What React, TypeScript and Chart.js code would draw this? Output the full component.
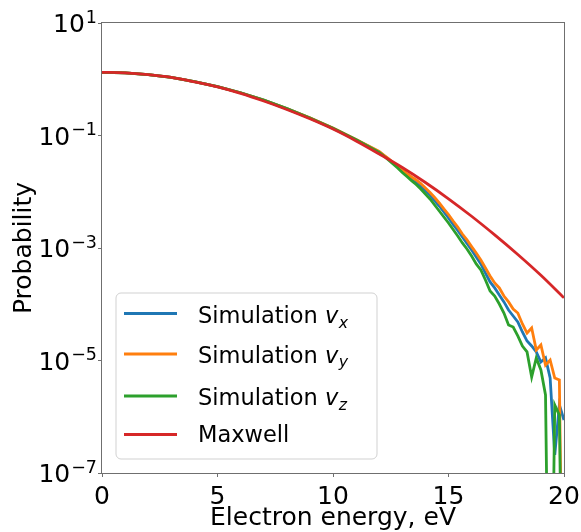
import React, { useEffect, useRef } from 'react';
import { Chart, registerables } from 'chart.js';

Chart.register(...registerables);

// Analytic Maxwell reference, sampled every 1 eV
const MAXWELL_ENERGY = [0, 1, 2, 3, 4, 5, 6, 7, 8, 9, 10, 11, 12, 13, 14, 15, 16, 17, 18, 19, 20];
const MAXWELL_P = [
  1.33, 1.30, 1.21, 1.08, 0.90, 0.73, 0.56, 0.41, 0.29, 0.198, 0.13,
  0.080, 0.047, 0.027, 0.0146, 0.0075, 0.00367, 0.00171, 7.66e-4, 3.27e-4, 1.3e-4,
];

// Histogram energies of the simulated velocity components (coarse bulk, fine tail)
const SIM_ENERGY = [
  0, 1, 2, 3, 4, 5, 6, 7, 8, 9, 10, 11,
  12.0, 12.2, 12.4, 12.6, 12.8, 13.0, 13.2, 13.4, 13.6, 13.8,
  14.0, 14.2, 14.4, 14.6, 14.8, 15.0, 15.2, 15.4, 15.6, 15.8,
  16.0, 16.2, 16.4, 16.6, 16.8, 17.0, 17.2, 17.4, 17.6, 17.8,
  18.0, 18.2, 18.4, 18.6, 18.8, 19.0, 19.2, 19.4, 19.6, 19.8, 20.0,
];

const SIM_VX = [
  1.33, 1.30, 1.21, 1.08, 0.91, 0.74, 0.575, 0.425, 0.30, 0.205, 0.135, 0.084,
  0.0509, 0.0441, 0.0382, 0.0325, 0.0275, 0.0234, 0.0199, 0.0172, 0.0149, 0.01265,
  0.0105, 8.75e-3, 6.99e-3, 5.58e-3, 4.37e-3, 3.42e-3, 2.62e-3, 2.05e-3, 1.57e-3, 1.20e-3,
  9.21e-4, 6.92e-4, 5.20e-4, 3.59e-4, 2.49e-4, 1.95e-4, 1.46e-4, 1.10e-4, 7.90e-5, 6.18e-5,
  4.84e-5, 3.21e-5, 2.22e-5, 1.81e-5, 1.42e-5, 9.40e-6, 1.11e-5, 4.89e-6, 2.09e-7, 1.62e-6, 8.75e-7,
];

const SIM_VY = [
  1.33, 1.30, 1.21, 1.08, 0.91, 0.74, 0.576, 0.426, 0.301, 0.206, 0.136, 0.085,
  0.0519, 0.0450, 0.0390, 0.0331, 0.0287, 0.0244, 0.0211, 0.0183, 0.0162, 0.0140,
  0.0117, 9.70e-3, 7.90e-3, 6.31e-3, 4.94e-3, 3.94e-3, 3.02e-3, 2.36e-3, 1.77e-3, 1.39e-3,
  1.06e-3, 8.15e-4, 6.12e-4, 4.41e-4, 3.18e-4, 2.39e-4, 1.95e-4, 1.40e-4, 1.10e-4, 8.23e-5,
  6.99e-5, 4.46e-5, 3.08e-5, 3.78e-5, 1.54e-5, 1.89e-5, 8.32e-6, 1.02e-5, 4.89e-6, 4.50e-6, 0,
];

const SIM_VZ = [
  1.33, 1.30, 1.21, 1.08, 0.91, 0.74, 0.575, 0.425, 0.30, 0.205, 0.135, 0.084,
  0.0499, 0.0432, 0.0367, 0.0311, 0.0264, 0.0220, 0.0187, 0.0158, 0.01345, 0.0112,
  9.12e-3, 7.43e-3, 5.81e-3, 4.55e-3, 3.56e-3, 2.78e-3, 2.13e-3, 1.63e-3, 1.23e-3, 9.60e-4,
  7.21e-4, 5.20e-4, 4.06e-4, 2.70e-4, 1.72e-4, 1.40e-4, 1.01e-4, 6.99e-5, 4.28e-5, 3.94e-5,
  2.73e-5, 1.81e-5, 1.42e-5, 5.09e-6, 1.11e-5, 6.78e-6, 2.44e-6, 0, 1.62e-6, 1.07e-6, 0,
];

const X_TICKS = [0, 5, 10, 15, 20];
const Y_TICK_EXPONENTS = [1, -1, -3, -5, -7];

// Empty histogram bins have no logarithm; they are drawn at a floor far below the axis
const EMPTY_BIN_FLOOR = 1e-12;

const SERIES = [
  { label: 'Simulation', component: 'x', color: '#1f77b4', data: SIM_VX, order: 3 },
  { label: 'Simulation', component: 'y', color: '#ff7f0e', data: SIM_VY, order: 2 },
  { label: 'Simulation', component: 'z', color: '#2ca02c', data: SIM_VZ, order: 1 },
];

const FONT = '"DejaVu Sans", sans-serif';
const AXIS_COLOR = '#6f6f6f';
const TEXT_COLOR = '#000000';

const overlay = {
  id: 'overlay',
  afterDatasetsDraw(chart: any) {
    const { ctx, chartArea: a } = chart;
    ctx.save();
    ctx.strokeStyle = AXIS_COLOR;
    ctx.lineWidth = 1;
    ctx.strokeRect(a.left - 0.5, a.top - 0.5, a.right - a.left + 1, a.bottom - a.top + 1);
    ctx.restore();
  },
  afterDraw(chart: any) {
    const { ctx, chartArea: a, scales } = chart;
    ctx.save();
    ctx.fillStyle = TEXT_COLOR;

    // x tick labels
    ctx.font = `25px ${FONT}`;
    ctx.textAlign = 'center';
    ctx.textBaseline = 'alphabetic';
    X_TICKS.forEach((v) => {
      ctx.fillText(String(v), scales.x.getPixelForValue(v), 504);
    });

    // y tick labels as 10^n
    ctx.textAlign = 'left';
    Y_TICK_EXPONENTS.forEach((e) => {
      const y = scales.y.getPixelForValue(Math.pow(10, e));
      const sup = e < 0 ? '\u2212' + Math.abs(e) : String(e);
      ctx.font = `17.5px ${FONT}`;
      const supW = ctx.measureText(sup).width;
      ctx.font = `25px ${FONT}`;
      const baseW = ctx.measureText('10').width;
      const x0 = 97 - supW - baseW - 1;
      const baseline = y + 9;
      ctx.fillText('10', x0, baseline);
      ctx.font = `17.5px ${FONT}`;
      ctx.fillText(sup, x0 + baseW + 1, baseline - 9.5);
    });

    // axis titles
    ctx.font = `25px ${FONT}`;
    ctx.textAlign = 'center';
    ctx.fillText('Electron energy, eV', (a.left + a.right) / 2, 525);
    ctx.save();
    ctx.translate(31, (a.top + a.bottom) / 2);
    ctx.rotate(-Math.PI / 2);
    ctx.fillText('Probability', 0, 0);
    ctx.restore();

    // legend box
    const bx = 116, by = 293, bw = 261, bh = 166, r = 5;
    ctx.beginPath();
    ctx.moveTo(bx + r, by);
    ctx.lineTo(bx + bw - r, by);
    ctx.arcTo(bx + bw, by, bx + bw, by + r, r);
    ctx.lineTo(bx + bw, by + bh - r);
    ctx.arcTo(bx + bw, by + bh, bx + bw - r, by + bh, r);
    ctx.lineTo(bx + r, by + bh);
    ctx.arcTo(bx, by + bh, bx, by + bh - r, r);
    ctx.lineTo(bx, by + r);
    ctx.arcTo(bx, by, bx + r, by, r);
    ctx.closePath();
    ctx.fillStyle = 'rgba(255,255,255,0.8)';
    ctx.fill();
    ctx.strokeStyle = 'rgba(204,204,204,0.9)';
    ctx.lineWidth = 1;
    ctx.stroke();

    const rows = [
      { handleY: 313.5, baseline: 323, series: SERIES[0] },
      { handleY: 354, baseline: 362.5, series: SERIES[1] },
      { handleY: 396, baseline: 405, series: SERIES[2] },
    ];
    ctx.textAlign = 'left';
    ctx.lineWidth = 2.8;
    ctx.lineCap = 'butt';
    rows.forEach(({ handleY, baseline, series }) => {
      ctx.strokeStyle = series.color;
      ctx.beginPath();
      ctx.moveTo(124, handleY);
      ctx.lineTo(177, handleY);
      ctx.stroke();
      ctx.fillStyle = TEXT_COLOR;
      ctx.font = `22.5px ${FONT}`;
      const prefix = series.label + ' ';
      ctx.fillText(prefix, 198, baseline);
      let x = 198 + ctx.measureText(prefix).width;
      ctx.font = `italic 22.5px ${FONT}`;
      ctx.fillText('v', x, baseline);
      x += ctx.measureText('v').width;
      ctx.font = `italic 15.75px ${FONT}`;
      ctx.fillText(series.component, x + 0.5, baseline + 4.5);
    });
    ctx.strokeStyle = '#d62728';
    ctx.beginPath();
    ctx.moveTo(124, 434.5);
    ctx.lineTo(177, 434.5);
    ctx.stroke();
    ctx.fillStyle = TEXT_COLOR;
    ctx.font = `22.5px ${FONT}`;
    ctx.fillText('Maxwell', 198, 442);

    ctx.restore();
  },
};

export default function App() {
  const canvasRef = useRef<HTMLCanvasElement | null>(null);

  useEffect(() => {
    const canvas = canvasRef.current;
    if (!canvas) return;

    const simDatasets = SERIES.map((s) => ({
      label: `${s.label} v${s.component}`,
      data: SIM_ENERGY.map((e, i) => ({ x: e, y: s.data[i] > 0 ? s.data[i] : EMPTY_BIN_FLOOR })),
      borderColor: s.color,
      backgroundColor: s.color,
      borderWidth: 2.8,
      pointRadius: 0,
      tension: 0,
      fill: false,
      clip: 0,
      order: s.order,
    }));

    const chart = new Chart(canvas, {
      type: 'line',
      data: {
        datasets: [
          ...simDatasets,
          {
            label: 'Maxwell',
            data: MAXWELL_ENERGY.map((e, i) => ({ x: e, y: MAXWELL_P[i] })),
            borderColor: '#d62728',
            backgroundColor: '#d62728',
            borderWidth: 2.8,
            pointRadius: 0,
            cubicInterpolationMode: 'monotone',
            fill: false,
            clip: 0,
            order: 0,
          },
        ],
      },
      options: {
        animation: false,
        responsive: false,
        maintainAspectRatio: false,
        devicePixelRatio: 1,
        layout: { padding: { left: 0, right: 17, top: 23, bottom: 0 } },
        plugins: {
          legend: { display: false },
          tooltip: { enabled: false },
        },
        scales: {
          x: {
            type: 'linear',
            min: 0,
            max: 20,
            afterBuildTicks: (scale: any) => {
              scale.ticks = X_TICKS.map((v) => ({ value: v }));
            },
            afterFit: (scale: any) => {
              scale.height = 59;
            },
            ticks: { display: false },
            border: { display: false },
            grid: {
              display: true,
              drawOnChartArea: false,
              drawTicks: true,
              tickLength: 4,
              color: AXIS_COLOR,
              lineWidth: 1,
            },
          },
          y: {
            type: 'logarithmic',
            min: 1e-7,
            max: 10,
            afterBuildTicks: (scale: any) => {
              scale.ticks = Y_TICK_EXPONENTS.map((e) => ({ value: Math.pow(10, e) }));
            },
            afterFit: (scale: any) => {
              scale.width = 102;
            },
            ticks: { display: false },
            border: { display: false },
            grid: {
              display: true,
              drawOnChartArea: false,
              drawTicks: true,
              tickLength: 4,
              color: AXIS_COLOR,
              lineWidth: 1,
            },
          },
        },
      },
      plugins: [overlay],
    } as any);

    return () => chart.destroy();
  }, []);

  return (
    <div style={{ position: 'fixed', left: 0, top: 0, width: 581, height: 532, background: '#ffffff' }}>
      <canvas ref={canvasRef} width={581} height={532} style={{ width: 581, height: 532, display: 'block' }} />
    </div>
  );
}
